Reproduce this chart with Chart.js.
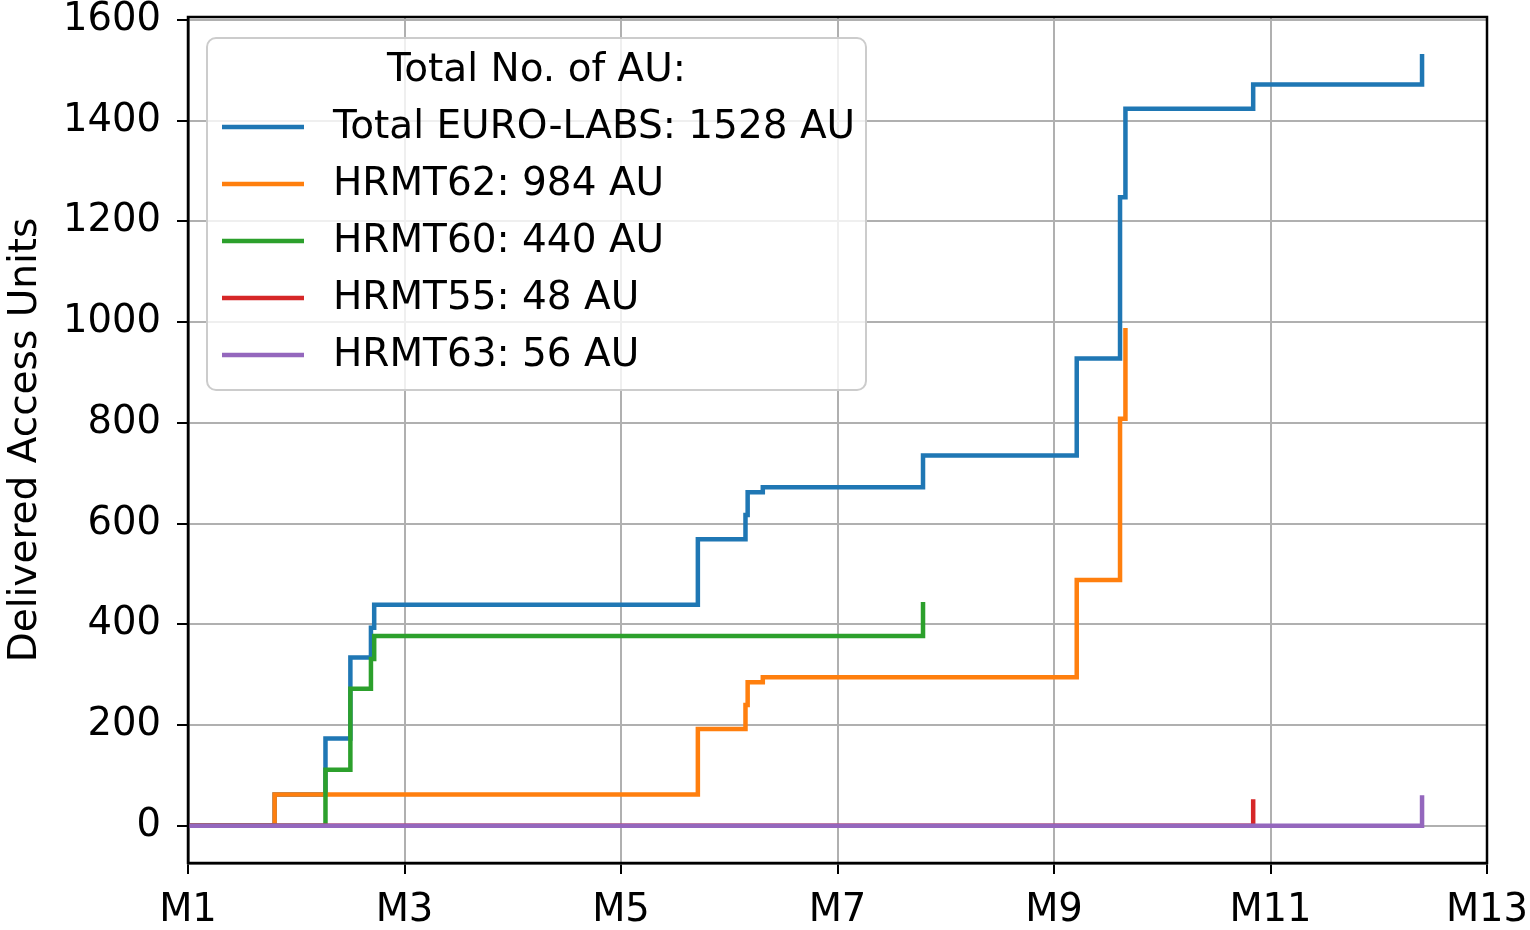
<!DOCTYPE html>
<html>
<head>
<meta charset="utf-8">
<script src="https://cdn.jsdelivr.net/npm/chart.js@4.4.1/dist/chart.umd.min.js"></script>
<style>
  html, body { margin: 0; padding: 0; background: #fff; }
  #wrap { width: 1530px; height: 930px; position: relative; }
</style>
</head>
<body>
<div id="wrap"><canvas id="c" width="1530" height="930"></canvas></div>
<script>
// Cumulative delivered access units per installation (value holds until the next change)
const seriesNames = ['Total EURO-LABS', 'HRMT62', 'HRMT60', 'HRMT55', 'HRMT63'];
const seriesColors = ['#1f77b4', '#ff7f0e', '#2ca02c', '#d62728', '#9467bd'];

const totalMonths = [1, 1.80, 2.27, 2.50, 2.69, 2.72, 5.71, 6.15, 6.17, 6.31, 7.79, 9.21, 9.61, 9.66, 10.84, 12.40];
const totalAU     = [0, 62, 173, 334, 393, 439, 569, 617, 662, 672, 735, 928, 1248, 1424, 1472, 1528];

const hrmt62Months = [1, 1.80, 5.71, 6.15, 6.17, 6.31, 9.21, 9.61, 9.66];
const hrmt62AU     = [0, 62, 192, 240, 285, 295, 488, 808, 984];

const hrmt60Months = [1, 2.27, 2.50, 2.69, 2.72, 7.79];
const hrmt60AU     = [0, 111, 272, 331, 377, 440];

const hrmt55Months = [1, 10.84];
const hrmt55AU     = [0, 48];

const hrmt63Months = [1, 12.40];
const hrmt63AU     = [0, 56];

const xTickValues = [1, 3, 5, 7, 9, 11, 13];
const xTickLabels = ['M1', 'M3', 'M5', 'M7', 'M9', 'M11', 'M13'];
const yTickValues = [0, 200, 400, 600, 800, 1000, 1200, 1400, 1600];

const legendTitle = 'Total No. of AU:';
const yAxisTitle = 'Delivered Access Units';

const FONT = '"DejaVu Sans", sans-serif';
const TICK_SIZE = 38.5;
const TEXT_SIZE = 39;

const monthSets = [totalMonths, hrmt62Months, hrmt60Months, hrmt55Months, hrmt63Months];
const valueSets = [totalAU, hrmt62AU, hrmt60AU, hrmt55AU, hrmt63AU];

const datasets = seriesNames.map((name, i) => ({
  label: name + ': ' + valueSets[i][valueSets[i].length - 1] + ' AU',
  data: monthSets[i].map((m, k) => ({ x: m, y: valueSets[i][k] })),
  borderColor: seriesColors[i],
  backgroundColor: seriesColors[i],
  borderWidth: 4.5,
  stepped: 'before',          // horizontal run, then vertical jump at the new point
  pointRadius: 0,
  fill: false,
  borderCapStyle: 'square',
  borderJoinStyle: 'miter',
  order: seriesNames.length - i   // later series painted on top
}));

// Full frame around the plotting area
const framePlugin = {
  id: 'frame',
  afterDatasetsDraw(chart) {
    const { ctx, chartArea: a } = chart;
    ctx.save();
    ctx.strokeStyle = '#000';
    ctx.lineWidth = 2.5;
    ctx.strokeRect(a.left, a.top, a.right - a.left, a.bottom - a.top);
    ctx.restore();
  }
};

// Boxed legend with a centred title, drawn inside the plot area
const legendPlugin = {
  id: 'boxLegend',
  afterDraw(chart) {
    const { ctx, chartArea: a } = chart;
    const x = a.left + 19, y = a.top + 21, w = 659, h = 352, r = 9;
    ctx.save();
    ctx.beginPath();
    ctx.roundRect(x, y, w, h, r);
    ctx.fillStyle = 'rgba(255,255,255,0.8)';
    ctx.fill();
    ctx.strokeStyle = '#cccccc';
    ctx.lineWidth = 2;
    ctx.stroke();

    ctx.font = TEXT_SIZE + 'px ' + FONT;
    ctx.fillStyle = '#000';
    ctx.textBaseline = 'middle';
    ctx.textAlign = 'center';
    ctx.fillText(legendTitle, x + w / 2, y + 33);

    ctx.textAlign = 'left';
    chart.data.datasets.forEach((ds, i) => {
      const ly = y + 89 + i * 57;
      ctx.beginPath();
      ctx.moveTo(x + 15, ly);
      ctx.lineTo(x + 97, ly);
      ctx.strokeStyle = ds.borderColor;
      ctx.lineWidth = 4.5;
      ctx.stroke();
      ctx.fillStyle = '#000';
      ctx.fillText(ds.label, x + 126, ly + 1);
    });
    ctx.restore();
  }
};

new Chart(document.getElementById('c'), {
  type: 'line',
  data: { datasets },
  options: {
    responsive: false,
    animation: false,
    events: [],
    layout: { padding: { top: 17, right: 43, left: 0, bottom: 0 } },
    plugins: {
      legend: { display: false },
      tooltip: { enabled: false }
    },
    scales: {
      x: {
        type: 'linear',
        min: 1,
        max: 13,
        afterBuildTicks(scale) { scale.ticks = xTickValues.map(v => ({ value: v })); },
        afterFit(scale) { scale.height = 67; scale.paddingLeft = 0; scale.paddingRight = 0; },
        ticks: {
          callback: (v) => xTickLabels[xTickValues.indexOf(v)],
          font: { family: FONT, size: TICK_SIZE },
          color: '#000',
          padding: 14,
          maxRotation: 0,
          autoSkip: false
        },
        grid: { color: '#b0b0b0', lineWidth: 2, tickColor: '#000', tickLength: 11, drawTicks: true },
        border: { color: '#000', width: 2.5 }
      },
      y: {
        type: 'linear',
        min: -74,
        max: 1606,
        afterBuildTicks(scale) { scale.ticks = yTickValues.map(v => ({ value: v })); },
        afterFit(scale) { scale.width = 188; scale.paddingTop = 0; scale.paddingBottom = 0; },
        ticks: {
          callback: (v) => String(v),
          font: { family: FONT, size: TICK_SIZE },
          color: '#000',
          padding: 16
        },
        title: {
          display: true,
          text: yAxisTitle,
          font: { family: FONT, size: TEXT_SIZE },
          color: '#000',
          padding: { top: 2, bottom: 0 }
        },
        grid: { color: '#b0b0b0', lineWidth: 2, tickColor: '#000', tickLength: 11, drawTicks: true },
        border: { color: '#000', width: 2.5 }
      }
    }
  },
  plugins: [framePlugin, legendPlugin]
});
</script>
</body>
</html>
